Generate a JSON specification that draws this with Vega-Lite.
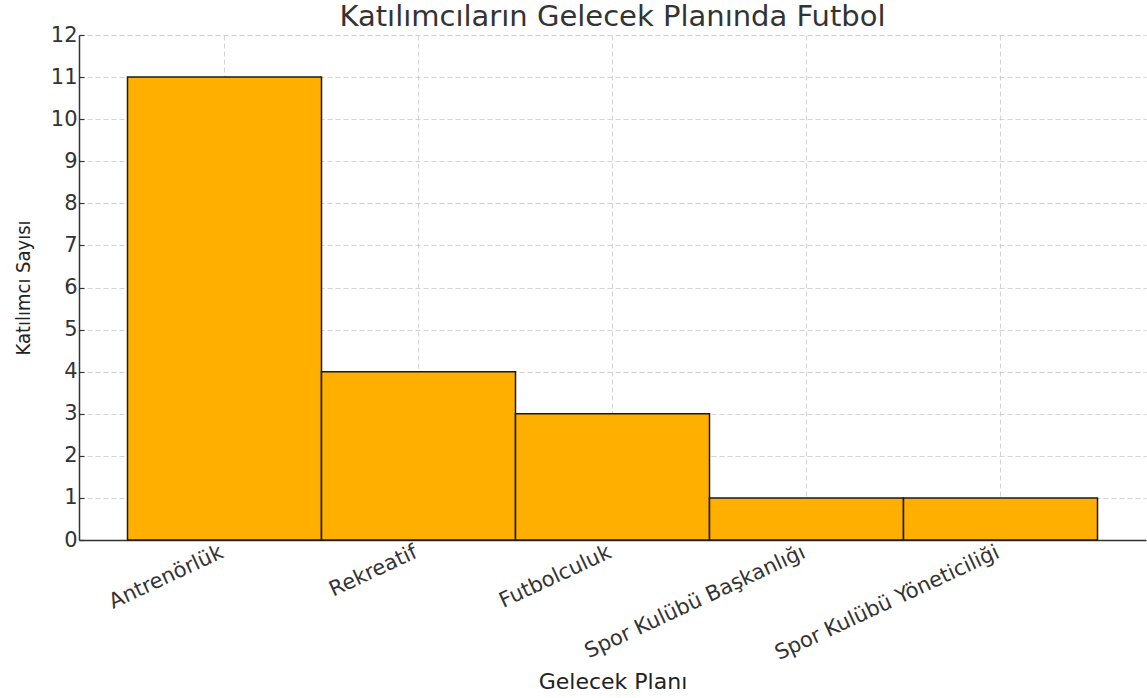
{
  "$schema": "https://vega.github.io/schema/vega-lite/v6.json",
  "width": 1067,
  "height": 505,
  "autosize": {"type": "none"},
  "padding": {"left": 79, "top": 35, "right": 1, "bottom": 158},
  "background": "white",
  "title": {
    "text": "Katılımcıların Gelecek Planında Futbol",
    "font": "DejaVu Sans",
    "fontSize": 29,
    "fontWeight": "normal",
    "color": "#333333",
    "anchor": "middle",
    "offset": -8
  },
  "config": {
    "view": {"stroke": null},
    "axis": {
      "labelFont": "DejaVu Sans",
      "labelColor": "#333333",
      "titleFont": "DejaVu Sans",
      "titleFontWeight": "normal",
      "titleColor": "#222222",
      "domainColor": "#333333",
      "domainWidth": 1.5,
      "tickColor": "#333333",
      "tickWidth": 1.2,
      "gridColor": "#c8c8c8",
      "gridOpacity": 0.8,
      "gridDash": [5, 3],
      "gridWidth": 1,
      "zindex": 1,
      "labelLimit": 0
    }
  },
  "data": {
    "values": [
      {"plan": "Antrenörlük", "sayi": 11},
      {"plan": "Rekreatif", "sayi": 4},
      {"plan": "Futbolculuk", "sayi": 3},
      {"plan": "Spor Kulübü Başkanlığı", "sayi": 1},
      {"plan": "Spor Kulübü Yöneticiliği", "sayi": 1}
    ]
  },
  "mark": {"type": "bar", "fill": "#FFAF00", "stroke": "#1a1a1a", "strokeWidth": 1.5},
  "encoding": {
    "x": {
      "field": "plan",
      "type": "nominal",
      "sort": null,
      "scale": {"paddingInner": 0, "paddingOuter": 0.25},
      "axis": {
        "title": "Gelecek Planı",
        "titleFontSize": 22,
        "titlePadding": 8,
        "labelFontSize": 21,
        "labelAngle": -25,
        "labelAlign": "right",
        "labelBaseline": "top",
        "labelPadding": 6,
        "labelOffset": -7,
        "tickSize": -5,
        "grid": true
      }
    },
    "y": {
      "field": "sayi",
      "type": "quantitative",
      "scale": {"domain": [0, 12], "nice": false},
      "axis": {
        "title": "Katılımcı Sayısı",
        "titleFont": "DejaVu Sans Condensed",
        "titleFontSize": 20,
        "titlePadding": 17,
        "labelFontSize": 21,
        "labelPadding": 7,
        "values": [0, 1, 2, 3, 4, 5, 6, 7, 8, 9, 10, 11, 12],
        "tickSize": -5,
        "grid": true
      }
    }
  }
}
